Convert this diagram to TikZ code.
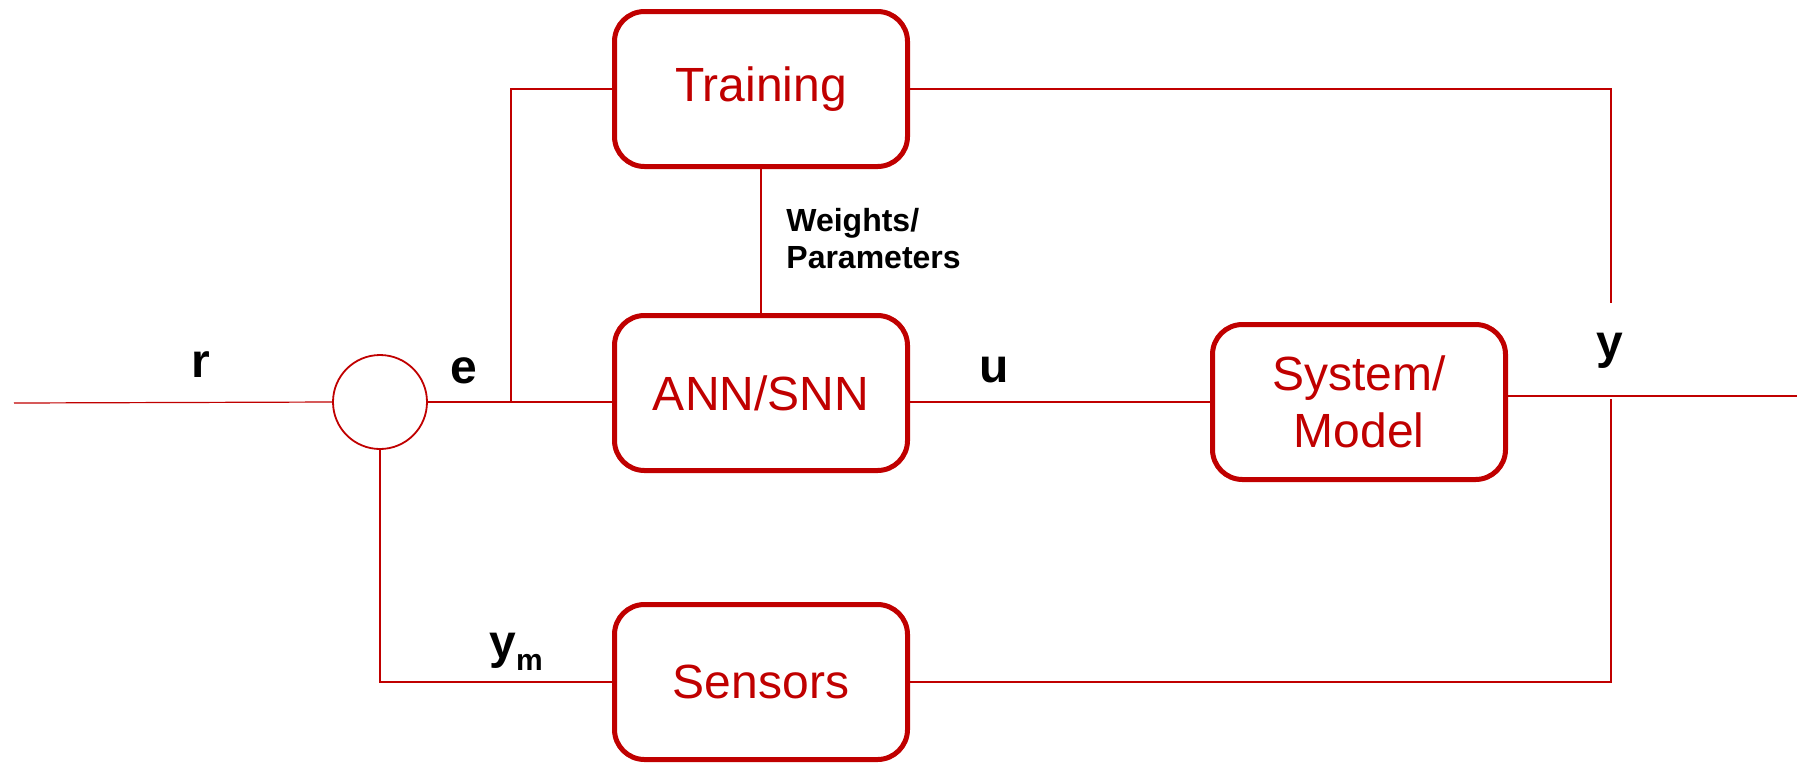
\documentclass[tikz,border=0pt]{standalone}
\usepackage{fontspec}
\setmainfont{Liberation Sans}
\definecolor{ctrlred}{RGB}{192,0,0}
\begin{document}
\begin{tikzpicture}[x=0.5pt,y=-0.5pt,
  blockbox/.style={draw=ctrlred,line width=2.5pt,rounded corners=15pt,
    minimum width=146.5pt,minimum height=77.5pt,inner sep=0pt,outer sep=0pt,
    text=ctrlred,font=\fontsize{24}{28.5}\selectfont,align=center},
  sumjunction/.style={circle,draw=ctrlred,line width=0.9pt,minimum size=47pt,
    inner sep=0pt,outer sep=0pt},
  wire/.style={draw=ctrlred,line width=0.6pt},
  siglabel/.style={font=\fontsize{24}{28}\selectfont\bfseries,inner sep=0pt,anchor=base},
  smalllabel/.style={font=\fontsize{16}{18.5}\selectfont\bfseries,inner sep=0pt,
    align=left,anchor=north west}]
\useasboundingbox (0,0) rectangle (1797,762);

% blocks
\node[blockbox] (train) at (761,89) {Training};
\node[blockbox] (ann) at (761,393) {ANN/SNN};
\node[blockbox] (sys) at (1359,402) {System/\\Model};
\node[blockbox] (sens) at (761,682) {Sensors};
\node[sumjunction] (sum) at (380,402) {};

% free ends and branch points
\coordinate (rin) at (14,403);
\coordinate (br) at (511,402);
\coordinate (ytop) at (1611,303);
\coordinate (ybot) at (1611,399);
\coordinate (yout) at (1797,396);

% signal paths
\draw[wire] (rin) -- (sum.west);
\draw[wire] (sum.east) -- (sum.east -| ann.west);
\draw[wire] (br) |- (train.west);
\draw[wire] (train.south) -- (ann.north);
\draw[wire] (sys.west -| ann.east) -- (sys.west);
\draw[wire] (train.east) -| (ytop);
\draw[wire] (yout -| sys.east) -- (yout);
\draw[wire] (ybot) |- (sens.east);
\draw[wire] (sens.west) -| (sum.south);

% labels
\node[siglabel] (lr) at (201,377) {r};
\node[siglabel] (le) at (464,383) {e};
\node[siglabel] (lu) at (994,382) {u};
\node[siglabel] (ly) at (1610,358) {y};
\node[siglabel] (lym) at (516,658) {y\raisebox{-6pt}{\fontsize{15}{17}\selectfont\bfseries m}};
\node[smalllabel] (lw) at (786,208) {Weights/\\Parameters};
\end{tikzpicture}
\end{document}
